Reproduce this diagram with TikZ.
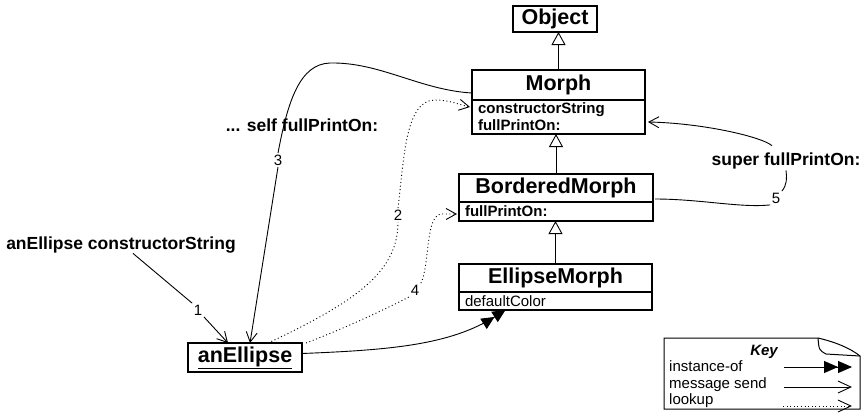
\documentclass[tikz,border=0pt]{standalone}
\usepackage{fontspec}
\setmainfont{Liberation Sans}
\usetikzlibrary{arrows.meta,calc}
\begin{document}
\begin{tikzpicture}[x=1pt,y=-1pt,
  box/.style={draw,line width=1.1pt,inner sep=0pt,outer sep=0pt},
  cls/.style={box,font=\fontsize{21.5}{24}\selectfont\bfseries},
  attr/.style={box,anchor=north,font=\fontsize{15}{17}\selectfont\bfseries,align=left,inner xsep=6pt,inner ysep=1pt},
  lbl/.style={font=\fontsize{17.5}{20}\selectfont\bfseries,inner sep=1pt},
  num/.style={font=\fontsize{15}{17}\selectfont,fill=white,inner sep=1.5pt},
  keyt/.style={font=\fontsize{15}{17}\selectfont,inner sep=0pt},
  conn/.style={line width=0.9pt},
  inh/.style={conn,-{Triangle[open,length=13pt,width=14pt]}},
  msg/.style={conn,-{Straight Barb[length=10pt,width=11pt]}},
  dots/.style={conn,dash pattern=on 1pt off 2.6pt},
  lookup/.style={dots,-{Straight Barb[length=10pt,width=11pt]}},
  inst/.style={conn,-{Triangle[length=13pt,width=12pt]Triangle[length=13pt,width=12pt]}},
]
\useasboundingbox (0,0) rectangle (864,413);

% classes
\node[cls,minimum width=84pt,minimum height=26pt] (Ob) at (555,19) {Object};
\node[cls,minimum width=173pt,minimum height=30pt] (Mt) at (558.5,85) {Morph};
\node[attr,text width=161pt,minimum height=34pt] (Ma) at (Mt.south) {constructorString\\fullPrintOn:};
\node[cls,minimum width=194pt,minimum height=28pt] (Bt) at (556,188) {BorderedMorph};
\node[attr,text width=182pt,minimum height=19pt] (Ba) at (Bt.south) {fullPrintOn:};
\node[cls,minimum width=193pt,minimum height=28pt] (Et) at (555.5,278) {EllipseMorph};
\node[attr,text width=181pt,minimum height=18pt,font=\fontsize{15}{17}\selectfont] (Ea) at (Et.south) {defaultColor};
\node[cls,minimum width=114pt,minimum height=29pt] (ae) at (245,357.5) {\underline{anEllipse}};

% inheritance
\draw[inh] (Mt.north) -- (Mt.north |- Ob.south);
\draw[inh] (Bt.north) -- (Bt.north |- Ma.south);
\draw[inh] (Et.north) -- (Et.north |- Ba.south);

% labels
\node[lbl] (lab1) at (121,245) {anEllipse constructorString};
\node[lbl] (selfl) at (302,125) {... self fullPrintOn:};
\node[lbl,fill=white] (sup) at (786,161) {super fullPrintOn:};
\node[num] (n1) at (198,310) {1};
\node[num] (n2) at (398,215) {2};
\node[num] (n3) at (278,160) {3};
\node[num] (n4) at (415,290) {4};
\node[num] (n5) at (776,198) {5};

% message 1
\draw[conn] ($(lab1.south)+(12,-1)$) -- (n1.north west);
\draw[msg] (n1.south east) -- ($(ae.north)+(-17,0)$);

% message 3
\draw[conn] ($(Mt.west)+(0,8)$) .. controls (420,90) and (380,62) .. (330,63)
  .. controls (300,64) and (288,100) .. (n3.north);
\draw[msg] (n3.south) -- ($(ae.north)+(5,0)$);

% lookup 2
\draw[dots] ($(ae.north)+(23,0)$) .. controls (360,300) and (398,270) .. (n2.south);
\draw[lookup] (n2.north) .. controls (404,160) and (405,100) .. (435,100)
  .. controls (450,100) and (460,105) .. ($(Ma.west)+(-2,-10)$);

% lookup 4
\draw[dots] ($(ae.north east)+(4,0)$) .. controls (340,330) and (380,312) .. (n4.south west);
\draw[lookup] (n4.north east) .. controls (430,265) and (425,214) .. (442,214) -- ($(Ba.west)+(-2,2.5)$);

% instance-of
\draw[inst] ($(ae.east)+(0,-4)$) .. controls (390,350) and (450,345) .. ($(Ea.south)+(-50,0)$);

% message 5
\draw[conn] ($(Bt.east)+(2,11)$) .. controls (700,199) and (740,208) .. (n5.south west);
\draw[conn] (n5.north east) .. controls (787,185) and (787,178) .. (sup.south);
\draw[msg] ($(sup.north)+(-14,-6)$) .. controls (760,136) and (700,123) .. ($(Ma.east)+(3,5)$);

% key
\draw[line width=1pt] (664,338) -- (818,338) .. controls (835,342) and (850,348) .. (860,356)
  -- (860,409) -- (664,409) -- cycle;
\draw[line width=1pt] (818,338) .. controls (819,350) .. (826,354) -- (860,356);
\node[keyt,anchor=base,font=\fontsize{15}{17}\selectfont\bfseries\itshape] (kt) at (764,355) {Key};
\node[keyt,anchor=base west] (ki) at (669,371) {instance-of};
\node[keyt,anchor=base west] (km) at (669,388) {message send};
\node[keyt,anchor=base west] (kl) at (669,404) {lookup};
\coordinate (kia) at (784,367);
\coordinate (kib) at (852,367);
\coordinate (kma) at (784,387);
\coordinate (kmb) at (852,387);
\coordinate (kla) at (783,406);
\coordinate (klb) at (852,406);
\draw[conn,-{Triangle[length=14pt,width=12pt]Triangle[length=14pt,width=12pt]}] (kia) -- (kib);
\draw[conn,-{Straight Barb[length=13pt,width=12pt]}] (kma) -- (kmb);
\draw[dots,-{Straight Barb[length=13pt,width=12pt]}] (kla) -- (klb);
\end{tikzpicture}
\end{document}
